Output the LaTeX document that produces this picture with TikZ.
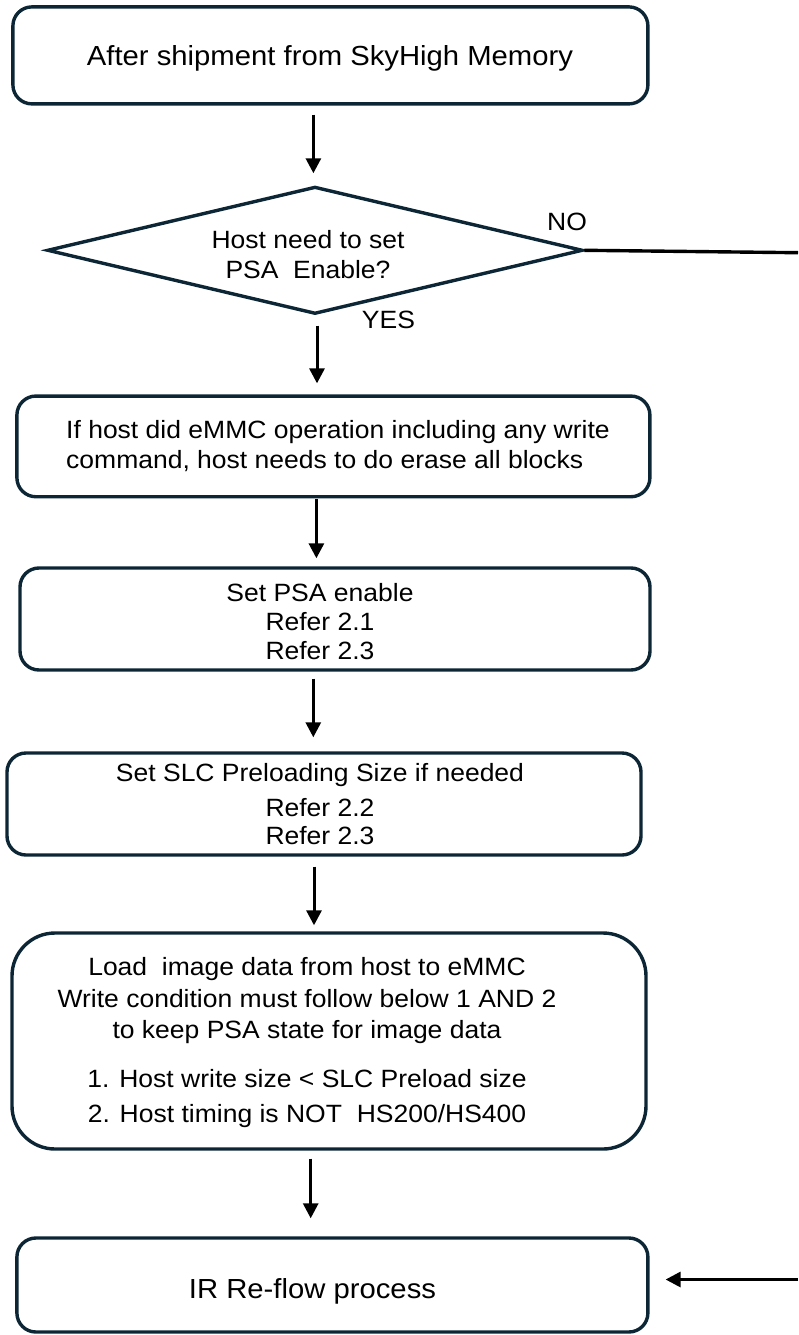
\documentclass[tikz,border=0pt]{standalone}
\usepackage{fontspec}
\setmainfont{Liberation Sans}[FakeStretch=1.06]
\usepackage{tikz}
\usetikzlibrary{shapes.geometric, arrows.meta}
\definecolor{boxline}{RGB}{12, 38, 54}
\newcommand{\bigtxt}{\fontsize{27.6}{33}\selectfont}
\newcommand{\midtxt}{\fontsize{25}{30}\selectfont}

\begin{document}
\begin{tikzpicture}[x=1pt, y=-1pt, font=\midtxt,
    procbox/.style={draw=boxline, line width=3.4pt, rounded corners=19pt, inner sep=0pt},
    askbox/.style={draw=boxline, line width=3.4pt, diamond, inner sep=0pt},
    flowarr/.style={line width=3pt, -{Triangle[length=15pt, width=15pt]}},
    txt/.style={anchor=base, align=center, inner sep=0pt}]
  \useasboundingbox (0,0) rectangle (798,1335);
  \node[procbox, minimum width=635pt, minimum height=97pt] (ship) at (330.4,55.4) {};
  \node[askbox, minimum width=535.5pt, minimum height=127.3pt] (ask) at (315,250.3) {};
  \node[procbox, minimum width=633pt, minimum height=100.7pt] (erase) at (333.4,446.4) {};
  \node[procbox, minimum width=630pt, minimum height=102pt] (psa) at (335,619) {};
  \node[procbox, minimum width=634pt, minimum height=102pt] (slc) at (324,804) {};
  \node[procbox, rounded corners=43pt, minimum width=634pt, minimum height=216pt] (load) at (329,1041) {};
  \node[procbox, minimum width=631pt, minimum height=94pt] (reflow) at (332.4,1285) {};

  \node[txt, font=\bigtxt] (shiptxt) at (330,65.7) {After shipment from SkyHigh Memory};
  \node[txt] (asktxt) at (308,278) {Host need to set\\PSA\ \ Enable?};
  \node[txt, anchor=base west, align=left] (erasetxt) at (66,468)
       {If host did eMMC operation including any write\\command, host needs to do erase all blocks};
  \node[txt] (psatxt) at (320,659.3) {Set PSA enable\\[-0.5pt]Refer 2.1\\[-1.5pt]Refer 2.3};
  \node[txt] (slctxt) at (320,844) {Set SLC Preloading Size if needed\\[5pt]Refer 2.2\\[-2pt]Refer 2.3};
  \node[txt] (loadtxt) at (307,1122) {Load\ \ image data from host to eMMC\\[2pt]Write condition must follow below 1 AND 2\\[1.5pt]to keep PSA state for image data\\[18.5pt]1. Host write size < SLC Preload size\\[5pt]2. Host timing is NOT\ \ HS200/HS400};
  \node[txt, font=\bigtxt] (reflowtxt) at (312.5,1298) {IR Re-flow process};
  \node[txt] (nolbl) at (567,230.7) {NO};
  \node[txt] (yeslbl) at (388.5,328) {YES};

  \coordinate (noend) at (798,252.7);
  \coordinate (reflowin) at (798,1279.5);
  \draw[flowarr, shorten <=9pt, shorten >=11.7pt] ([xshift=-17pt]ship.south) -- ([xshift=-17pt]ship.south |- ask.north);
  \draw[flowarr, shorten <=10pt, shorten >=11pt] ([xshift=2pt]ask.south) -- ([xshift=2pt]ask.south |- erase.north);
  \draw[flowarr, shorten <=1pt, shorten >=8pt] ([xshift=-17pt]erase.south) -- ([xshift=-17pt]erase.south |- psa.north);
  \draw[flowarr, shorten <=7pt, shorten >=14pt] ([xshift=-21.7pt]psa.south) -- ([xshift=-21.7pt]psa.south |- slc.north);
  \draw[flowarr, shorten <=10pt, shorten >=6pt] ([xshift=-10pt]slc.south) -- ([xshift=-10pt]slc.south |- load.north);
  \draw[flowarr, shorten <=8pt, shorten >=18pt] ([xshift=-18.3pt]load.south) -- ([xshift=-18.3pt]load.south |- reflow.north);
  \draw[line width=3.4pt] (ask.east) -- (noend);
  \draw[flowarr, shorten >=16pt] (reflowin) -- (reflow.east |- reflowin);
\end{tikzpicture}
\end{document}
